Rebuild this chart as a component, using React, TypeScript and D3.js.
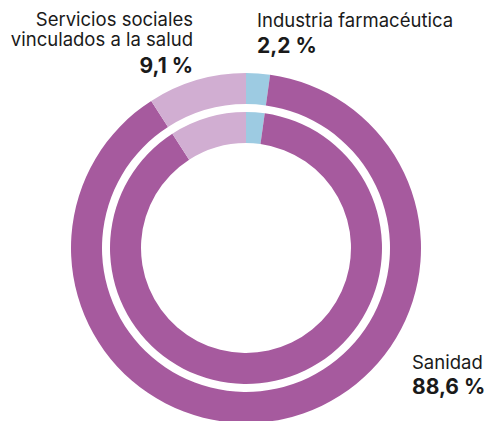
import React from "react";
import * as d3 from "d3";

const categories = ["Industria farmacéutica", "Sanidad", "Servicios sociales vinculados a la salud"];
const values = [2.2, 88.6, 9.1];
const valueLabels = ["2,2 %", "88,6 %", "9,1 %"];
const colors = ["#9dcbe2", "#a65a9e", "#d1aed2"];

const width = 486;
const height = 421;
const cx = 246;
const cy = 248;
const rings = [
  { inner: 144, outer: 175 },
  { inner: 105, outer: 136 },
];

function App() {
  const pie = d3
    .pie<number>()
    .sort(null)
    .value((d) => d)
    .startAngle(0)
    .endAngle(2 * Math.PI);
  const slices = pie(values);
  const font = "Inter, 'Noto Sans', sans-serif";

  return (
    <svg
      width={width}
      height={height}
      style={{ position: "absolute", left: 0, top: 0, background: "#fff" }}
    >
      <g transform={`translate(${cx},${cy})`}>
        {rings.map((r, ri) => {
          const arc = d3.arc<d3.PieArcDatum<number>>().innerRadius(r.inner).outerRadius(r.outer);
          return (
            <g key={ri}>
              {slices.map((s, i) => (
                <path key={i} d={arc(s) || ""} fill={colors[i]} />
              ))}
            </g>
          );
        })}
      </g>
      <g fontFamily={font} fill="#1a1a1a">
        {/* Servicios sociales */}
        <text x={193} y={26} textAnchor="end" fontSize={18.5}>Servicios sociales</text>
        <text x={193} y={46} textAnchor="end" fontSize={18.5}>vinculados a la salud</text>
        <text x={193} y={73} textAnchor="end" fontSize={21} fontWeight="bold">{valueLabels[2]}</text>
        {/* Industria */}
        <text x={257} y={27} fontSize={18.5}>{categories[0]}</text>
        <text x={257} y={53} fontSize={21} fontWeight="bold">{valueLabels[0]}</text>
        {/* Sanidad */}
        <text x={412} y={369} fontSize={18.5}>{categories[1]}</text>
        <text x={412} y={394} fontSize={21} fontWeight="bold">{valueLabels[1]}</text>
      </g>
    </svg>
  );
}

export default App;
